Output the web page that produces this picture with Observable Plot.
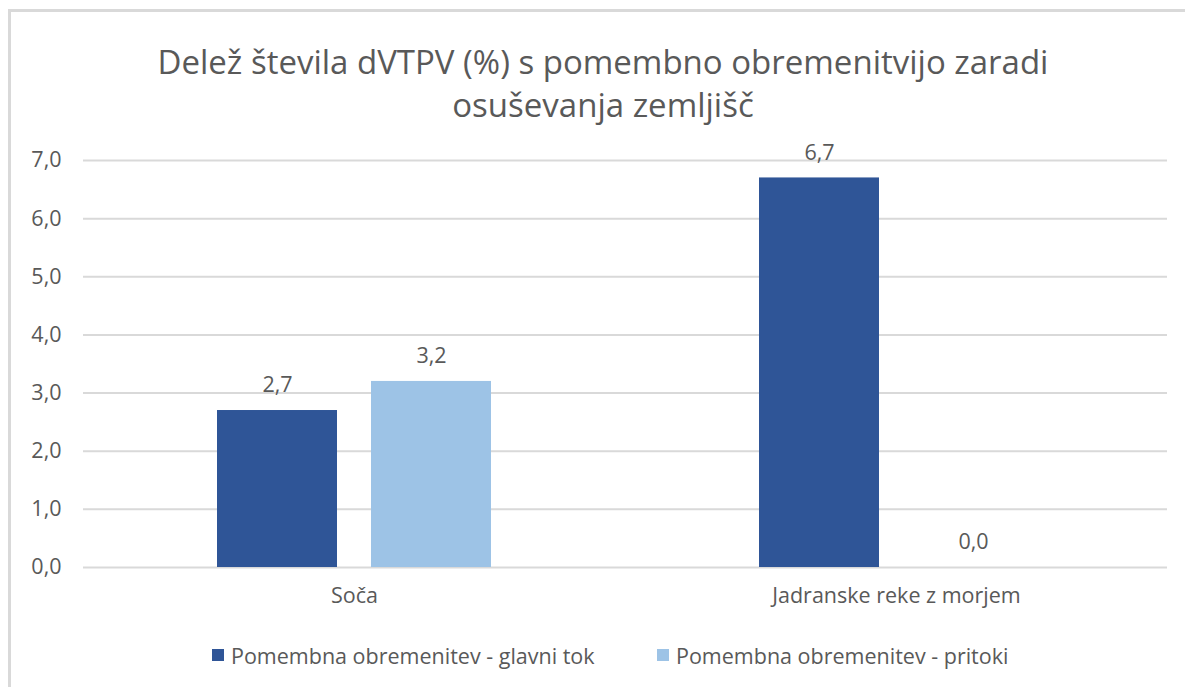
<!DOCTYPE html>
<html>
<head>
<meta charset="utf-8">
<script src="https://cdn.jsdelivr.net/npm/d3@7"></script>
<script src="https://cdn.jsdelivr.net/npm/@observablehq/plot@0.6"></script>
<style>
  html, body { margin: 0; padding: 0; background: #fff; width: 1185px; height: 687px; overflow: hidden; }
  body { font-family: "Open Sans", sans-serif; color: #595959; position: relative; }
  #frame { position: absolute; left: 8px; top: 9px; width: 1200px; height: 700px; border: 3px solid #d9d9d9; box-sizing: border-box; }
  #title { position: absolute; left: 0; width: 1206px; top: 40px; text-align: center; font-size: 33px; line-height: 43px; color: #595959; }
  #chart { position: absolute; left: 0; top: 140px; }
  #legend { position: absolute; top: 640px; left: 0; width: 1185px; font-size: 21.5px; color: #595959; }
  .item { position: absolute; top: 0; display: flex; align-items: center; height: 30px; white-space: nowrap; }
  .sw { width: 12px; height: 12px; margin-right: 7px; }
</style>
</head>
<body>
<div id="frame"></div>
<div id="title">Delež števila dVTPV (%) s pomembno obremenitvijo zaradi<br>osuševanja zemljišč</div>
<div id="chart"></div>
<div id="legend"></div>
<script>
const categories = ["Soča", "Jadranske reke z morjem"];
const seriesNames = ["Pomembna obremenitev - glavni tok", "Pomembna obremenitev - pritoki"];
const glavniTok = [2.7, 6.7];
const pritoki = [3.2, 0.0];
const colors = ["#2f5597", "#9dc3e6"];
const yTicks = [0, 1, 2, 3, 4, 5, 6, 7];

const data = [];
categories.forEach((c, i) => {
  data.push({cat: c, series: seriesNames[0], value: glavniTok[i]});
  data.push({cat: c, series: seriesNames[1], value: pritoki[i]});
});
const fmt = v => v.toFixed(1).replace(".", ",");

const chart = Plot.plot({
  width: 1185,
  height: 480,
  marginLeft: 82,
  marginRight: 18,
  marginTop: 20,
  marginBottom: 53,
  style: {fontFamily: "Open Sans, sans-serif", fontSize: "21.5px", color: "#595959", background: "transparent", overflow: "visible"},
  fx: {domain: categories, padding: 0, label: null},
  x: {domain: seriesNames, paddingInner: 0.22, paddingOuter: 0.86, axis: null},
  y: {domain: [0, 7], ticks: yTicks, label: null, tickFormat: fmt},
  color: {domain: seriesNames, range: colors},
  marks: [
    Plot.ruleY(yTicks, {stroke: "#d9d9d9", strokeWidth: 2}),
    Plot.axisY({ticks: yTicks, tickFormat: fmt, tickSize: 0, tickPadding: 22, label: null, fontSize: 21.5, fill: "#595959"}),
    Plot.barY(data, {fx: "cat", x: "series", y: "value", fill: "series"}),
    Plot.text(data, {fx: "cat", x: "series", y: "value", text: d => fmt(d.value), dy: -25, fontSize: 21.5, fill: "#595959"}),
    Plot.axisFx({anchor: "bottom", tickSize: 0, tickPadding: 20, label: null, fontSize: 21.5, fill: "#595959"})
  ]
});
document.getElementById("chart").appendChild(chart);

const legend = document.getElementById("legend");
const lx = [212, 657];
seriesNames.forEach((s, i) => {
  const it = document.createElement("div");
  it.className = "item";
  it.style.left = lx[i] + "px";
  it.innerHTML = `<div class="sw" style="background:${colors[i]}"></div><span>${s}</span>`;
  legend.appendChild(it);
});
</script>
</body>
</html>
